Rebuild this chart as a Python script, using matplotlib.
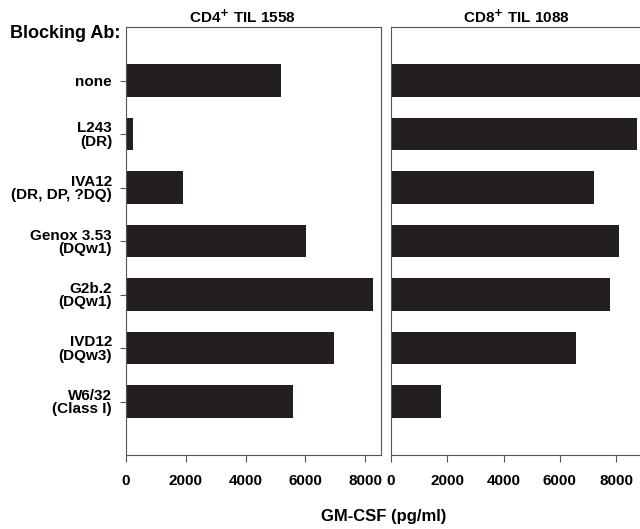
import matplotlib
matplotlib.use("Agg")
import matplotlib.pyplot as plt

plt.rcParams['font.family'] = ['Liberation Sans', 'DejaVu Sans']
plt.rcParams['font.weight'] = 'bold'

categories = ["none", "L243\n(DR)", "IVA12\n(DR, DP, ?DQ)", "Genox 3.53\n(DQw1)",
              "G2b.2\n(DQw1)", "IVD12\n(DQw3)", "W6/32\n(Class I)"]
cd4_values = [5180, 230, 1900, 6010, 8260, 6960, 5580]
cd8_values = [9000, 8740, 7200, 8100, 7800, 6580, 1790]
xticks = [0, 2000, 4000, 6000, 8000]
titles = ["CD4$^{+}$ TIL 1558", "CD8$^{+}$ TIL 1088"]

W, H = 640, 529
fig = plt.figure(figsize=(W / 100, H / 100), dpi=100)

def px_axes(x0, x1, ytop, ybot):
    return fig.add_axes([x0 / W, 1 - ybot / H, (x1 - x0) / W, (ybot - ytop) / H])

ax1 = px_axes(126, 381, 27, 455)
ax2 = px_axes(391, 640, 27, 455)

bar_color = "#231f20"
spine_color = "#555555"
ypos = list(range(len(categories)))

for ax, vals, xmax in [(ax1, cd4_values, 8530), (ax2, cd8_values, 8850)]:
    ax.barh(ypos, vals, height=0.6, color=bar_color)
    ax.set_ylim(7.0, -1.0)
    ax.set_xlim(0, xmax)
    ax.set_xticks(xticks)
    ax.set_xticklabels([str(t) for t in xticks], fontsize=11, fontweight='bold')
    for s in ax.spines.values():
        s.set_color(spine_color)
        s.set_linewidth(0.8)
    ax.tick_params(axis='x', direction='out', length=5, width=0.8, color=spine_color, pad=9)

ax1.set_yticks(ypos)
ax1.set_yticklabels(categories, fontsize=11, fontweight='bold', linespacing=0.95)
ax1.tick_params(axis='y', direction='out', length=4, width=0.8, color=spine_color, pad=6)
for lab in ax1.get_yticklabels():
    lab.set_multialignment('right')

ax2.set_yticks([])
ax2.spines['right'].set_visible(False)

fig.text(242 / W, 1 - 17 / H, titles[0], ha='center', va='center', fontsize=11, fontweight='bold')
fig.text(516 / W, 1 - 17 / H, titles[1], ha='center', va='center', fontsize=11, fontweight='bold')
fig.text(121 / W, 1 - 34 / H, "Blocking Ab:", ha='right', va='center', fontsize=13, fontweight='bold')
fig.text(384 / W, 1 - 516 / H, "GM-CSF (pg/ml)", ha='center', va='center', fontsize=12, fontweight='bold')

fig.savefig("out.png", dpi=100)
